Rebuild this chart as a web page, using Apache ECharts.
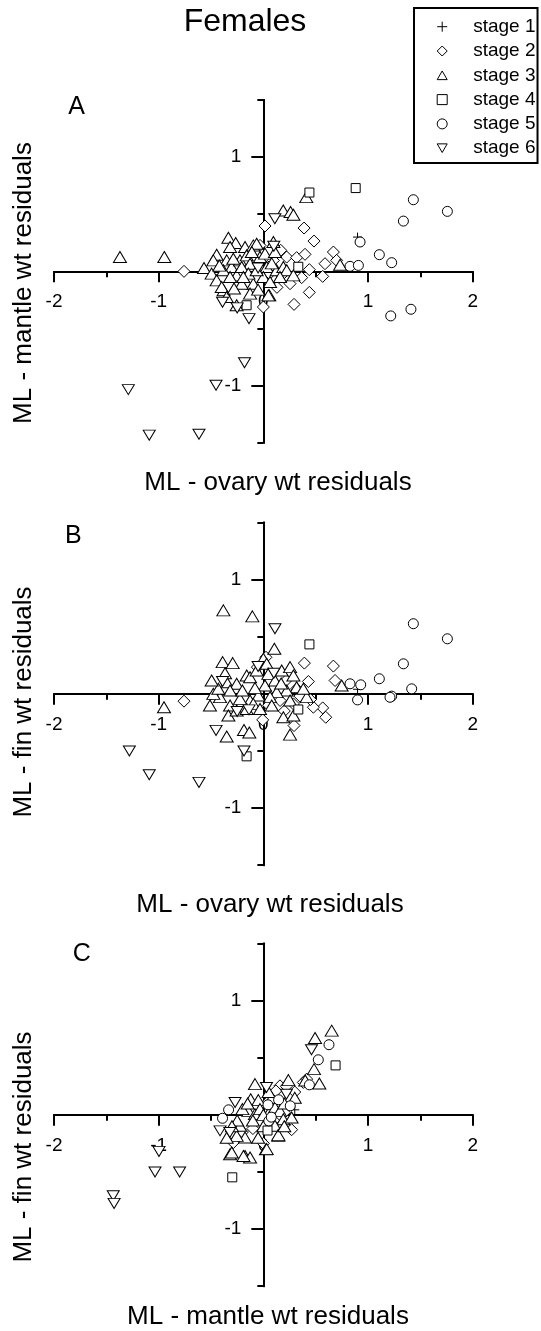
<!DOCTYPE html>
<html>
<head>
<meta charset="utf-8">
<script src="https://cdn.jsdelivr.net/npm/echarts@6/dist/echarts.min.js"></script>
<style>
html,body{margin:0;padding:0;background:#fff;}
#chart{width:541px;height:1331px;}
</style>
</head>
<body>
<div id="chart"></div>
<script>
// ---------- DATA ----------
const stageNames = ['stage 1', 'stage 2', 'stage 3', 'stage 4', 'stage 5', 'stage 6'];
const panelLetters = ['A', 'B', 'C'];
const xAxisNames = ['ML - ovary wt residuals', 'ML - ovary wt residuals', 'ML - mantle wt residuals'];
const yAxisNames = ['ML - mantle wt residuals', 'ML - fin wt residuals', 'ML - fin wt residuals'];
const xMajorTicks = [-2, -1, 0, 1, 2];
const xMinorTicks = [-1.5, -0.5, 0.5, 1.5];
const yMajorTicks = [-1, 0, 1];
const yLabelTicks = [-1, 1];
const yMinorTicks = [-1.5, -0.5, 0.5, 1.5];

// Panel A: ovary residual (x) vs mantle residual (y)
const A_stage1 = [[0.90, 0.30]];
const A_stage2 = [[-0.758, 0], [0.016, 0.397], [0.389, 0.379], [0.484, 0.265], [0.166, 0.184], [0.223, 0.125],
  [0.318, 0.12], [0.398, 0.149], [0.439, 0.015], [0.567, -0.044], [0.589, 0.067], [0.669, 0.169],
  [0.366, -0.055], [0.255, -0.108], [0.439, -0.184], [0.293, -0.289], [0, -0.312], [0.096, 0.096],
  [0.175, -0.035], [-0.032, 0.227], [0.70, 0.096], [0.13, -0.14], [0.06, -0.02]];
const A_stage3 = [[-1.37, 0.125], [-0.946, 0.125], [-0.567, 0.03], [0.41, 0.65], [0.19, 0.533], [0.26, 0.52],
  [0.287, 0.496], [0.733, 0.058], [-0.38, -0.166], [-0.255, -0.297], [0.057, -0.21],
  [-0.334, 0.294], [-0.264, 0.248], [-0.446, 0.146], [-0.35, 0.096], [-0.494, -0.02], [-0.446, -0.079],
  [-0.398, -0.137], [-0.303, 0.038], [-0.255, -0.035], [-0.223, 0.096], [-0.175, 0.213], [-0.159, 0.14],
  [-0.127, 0.067], [-0.318, 0.213], [-0.096, 0.227], [-0.064, 0.242], [-0.032, 0.125], [0.016, 0.155],
  [0.096, 0.257], [0.111, 0.169], [0.032, 0.038], [0, -0.05], [-0.096, -0.108], [-0.207, -0.108],
  [-0.127, -0.195], [0.048, -0.21], [0.127, 0.009], [0.191, 0.038], [0.223, 0.009], [0.287, -0.035],
  [-0.35, -0.224], [-0.478, 0.096], [-0.207, 0.038], [-0.382, 0.009], [-0.143, -0.02], [-0.064, 0.009],
  [-0.287, 0.111], [-0.191, -0.05], [0.064, -0.093], [-0.318, -0.05], [0.159, -0.05], [-0.42, 0.05],
  [-0.28, -0.15], [-0.05, -0.16], [0.08, 0.07], [-0.11, 0.17]];
const A_stage4 = [[0.44, 0.69], [0.882, 0.729], [0.334, 0.04], [-0.16, -0.297]];
const A_stage5 = [[1.433, 0.627], [1.758, 0.525], [1.338, 0.44], [0.924, 0.257], [1.108, 0.146], [1.226, 0.076],
  [0.828, 0.044], [0.908, 0.052], [1.217, -0.39], [1.41, -0.332]];
const A_stage6 = [[-1.29, -1.035], [-1.09, -1.434], [-0.615, -1.426], [-0.452, -0.997], [-0.18, -0.80],
  [-0.137, -0.414], [-0.39, -0.27], [0.11, 0.46], [-0.05, 0.03], [0.1, 0.22], [-0.25, -0.32]];

// Panel B: ovary residual (x) vs fin residual (y)
const B_stage1 = [[0.90, 0.04]];
const B_stage2 = [[-0.758, -0.064], [0.392, 0.269], [0.669, 0.243], [0.43, 0.108], [0.685, 0.117], [0.567, -0.123],
  [0.596, -0.205], [0.478, -0.117], [0.293, -0.278], [-0.006, -0.228], [-0.057, 0.234], [0.025, 0.32],
  [0.318, 0.044], [0.287, -0.088], [0.16, -0.058], [0.1, 0.05], [0.2, -0.15], [0.35, -0.02], [0.45, -0.05],
  [0.22, 0.12], [0.05, -0.1]];
const B_stage3 = [[-0.382, 0.731], [-0.105, 0.678], [0.105, 0.395], [-0.949, -0.117], [0.255, -0.357],
  [-0.35, -0.374], [-0.185, -0.316], [-0.134, -0.339], [0.748, 0.073], [-0.389, 0.278], [-0.293, 0.269],
  [-0.35, 0.102], [-0.255, 0.088], [-0.159, 0.161], [-0.127, 0.146], [-0.064, 0.205], [0, 0.307],
  [0.032, 0.263], [0.048, 0.175], [0.016, 0.073], [0.111, 0.117], [0.175, 0.205], [0.255, 0.234],
  [0.287, 0.161], [0.318, 0.058], [0.223, 0.029], [0.127, 0.015], [0.064, -0.029], [-0.048, -0.015],
  [-0.127, -0.058], [-0.223, -0.044], [-0.318, -0.102], [-0.414, -0.029], [-0.478, 0], [-0.334, -0.19],
  [-0.255, -0.146], [-0.159, -0.132], [-0.096, -0.088], [-0.032, -0.132], [0.08, -0.102], [0.191, -0.205],
  [0.287, -0.19], [0.414, -0.029], [0.382, 0.044], [0.255, -0.058], [-0.318, 0.029], [-0.51, -0.102],
  [-0.43, 0.044], [-0.366, 0.18], [-0.494, 0.117], [-0.2, 0.03], [-0.08, 0.05], [0.17, 0.09]];
const B_stage4 = [[0.44, 0.433], [0.334, -0.137], [-0.16, -0.547]];
const B_stage5 = [[1.433, 0.614], [1.758, 0.482], [1.338, 0.263], [1.108, 0.132], [0.828, 0.088], [0.93, 0.079],
  [0.90, -0.053], [1.226, -0.02], [1.21, -0.03], [1.417, 0.044]];
const B_stage6 = [[-1.28, -0.50], [-1.09, -0.708], [-0.615, -0.775], [-0.452, -0.32], [-0.185, -0.50],
  [0.111, 0.57], [-0.137, -0.14], [-0.39, 0.108], [-0.05, 0.24], [0.1, 0.18], [-0.25, -0.155]];

// Panel C: mantle residual (x) vs fin residual (y)
const C_stage1 = [[0.30, 0.044]];
const C_stage2 = [[0.382, 0.284], [0.414, 0.313], [0.159, 0.254], [0.27, -0.13], [-0.287, -0.243], [0.12, 0.21],
  [0.2, 0.02], [-0.1, -0.12], [0, -0.25], [0.3, 0.2], [-0.2, -0.15], [0.1, -0.05], [0.22, 0.25], [0.05, 0.12]];
const C_stage3 = [[0.653, 0.737], [0.494, 0.673], [0.484, 0.40], [0.535, 0.275], [0.239, 0.304], [-0.08, 0.269],
  [-0.121, 0.137], [-0.048, 0.129], [-0.143, 0.035], [-0.08, 0.006], [-0.032, 0.05], [0.064, 0.035],
  [0.111, 0.064], [0.159, 0.035], [0.191, -0.038], [0.27, -0.023], [-0.223, -0.096], [-0.175, -0.199],
  [-0.318, -0.345], [-0.175, -0.36], [-0.127, -0.374], [0.025, -0.301], [0.143, -0.184], [0.111, -0.096],
  [-0.255, -0.184], [-0.302, -0.33], [-0.19, -0.36], [0.032, -0.30], [0.143, -0.175], [-0.2, 0.05],
  [-0.1, -0.05], [0, -0.1], [0.08, 0.15], [0.2, 0.1], [-0.25, -0.05], [-0.05, -0.2], [0.05, 0.2],
  [0.3, 0.15], [0.4, 0.3], [-0.3, -0.1], [0, 0], [-0.15, 0.1], [0.2, -0.1], [-0.35, -0.2]];
const C_stage4 = [[0.69, 0.433], [0.04, -0.137], [-0.297, -0.547]];
const C_stage5 = [[0.627, 0.614], [0.525, 0.482], [0.44, 0.263], [0.146, 0.132], [0.044, 0.088], [0.257, 0.079],
  [0.052, -0.053], [0.076, -0.02], [-0.39, -0.03], [-0.332, 0.044]];
const C_stage6 = [[-1.035, -0.50], [-1.434, -0.708], [-1.426, -0.775], [-0.997, -0.32], [-0.80, -0.50],
  [-0.414, -0.14], [-0.27, 0.108], [0.46, 0.57], [0.03, 0.24], [0.22, 0.18], [-0.32, -0.155]];

const panelData = [
  [A_stage1, A_stage2, A_stage3, A_stage4, A_stage5, A_stage6],
  [B_stage1, B_stage2, B_stage3, B_stage4, B_stage5, B_stage6],
  [C_stage1, C_stage2, C_stage3, C_stage4, C_stage5, C_stage6]
];

// ---------- STYLE ----------
const FONT = '"Liberation Sans", Arial, Helvetica, sans-serif';
const stageSymbols = [
  'path://M5,0L5,10M0,5L10,5',
  'path://M5,0L10,5L5,10L0,5Z',
  'path://M5,0L10,8.66L0,8.66Z',
  'path://M0,0L10,0L10,10L0,10Z',
  'circle',
  'path://M0,0L10,0L5,8.66Z'
];
const stageSizes = [[9, 9], [12, 12], [13, 11], [9, 9], [10, 10], [12, 10]];

const gridTops = [100, 522.5, 943.5];
const gridLeft = 54, gridWidth = 418.7, gridHeight = 342.7;

const chart = echarts.init(document.getElementById('chart'), null, {renderer: 'canvas'});

const grids = [], xAxes = [], yAxes = [], series = [], graphics = [];
const lineStyle = {color: '#000', width: 2};
const xOff = -gridHeight / 2;   // moves bottom x axis up to y = 0
const yOff = -gridWidth / 2;    // moves left y axis right to x = 0

gridTops.forEach((top, p) => {
  grids.push({left: gridLeft, top: top, width: gridWidth, height: gridHeight, containLabel: false, outerBoundsMode: 'none'});
  // major x axis
  xAxes.push({
    type: 'value', gridIndex: p, min: -2, max: 2, interval: 1, position: 'bottom', offset: xOff,
    axisLine: {show: true, onZero: false, lineStyle: lineStyle},
    axisTick: {show: true, length: 11, lineStyle: {color: '#000', width: 2}, customValues: xMajorTicks},
    axisLabel: {show: true, margin: 21, fontSize: 19, color: '#000', fontFamily: FONT, customValues: xMajorTicks,
      formatter: v => String(v)},
    splitLine: {show: false}
  });
  // minor x axis
  xAxes.push({
    type: 'value', gridIndex: p, min: -2, max: 2, interval: 0.5, position: 'bottom', offset: xOff,
    axisLine: {show: true, onZero: false, lineStyle: lineStyle},
    axisTick: {show: true, length: 6, lineStyle: {color: '#000', width: 2}, customValues: xMinorTicks},
    axisLabel: {show: false},
    splitLine: {show: false}
  });
  // major y axis
  yAxes.push({
    type: 'value', gridIndex: p, min: -1.5, max: 1.5, interval: 0.5, position: 'left', offset: yOff,
    axisLine: {show: true, onZero: false, lineStyle: lineStyle},
    axisTick: {show: true, length: 12, lineStyle: {color: '#000', width: 2}, customValues: yMajorTicks},
    axisLabel: {show: true, margin: 22, fontSize: 19, color: '#000', fontFamily: FONT, customValues: yLabelTicks,
      formatter: v => (v === 1 || v === -1) ? String(v) : ''},
    splitLine: {show: false}
  });
  // minor y axis
  yAxes.push({
    type: 'value', gridIndex: p, min: -1.5, max: 1.5, interval: 0.5, position: 'left', offset: yOff,
    axisLine: {show: true, onZero: false, lineStyle: lineStyle},
    axisTick: {show: true, length: 6, lineStyle: {color: '#000', width: 2}, customValues: yMinorTicks},
    axisLabel: {show: false},
    splitLine: {show: false}
  });

  panelData[p].forEach((pts, s) => {
    series.push({
      type: 'scatter', name: stageNames[s], xAxisIndex: p * 2, yAxisIndex: p * 2,
      data: pts, symbol: stageSymbols[s], symbolSize: stageSizes[s],
      itemStyle: {color: '#fff', borderColor: '#000', borderWidth: 1, opacity: 1},
      emphasis: {disabled: true}, z: 3 + s
    });
  });

  graphics.push({
    type: 'text', x: [76.7, 73.3, 81.7][p], y: [107.5, 536.5, 954.5][p],
    style: {text: panelLetters[p], fill: '#000', font: '25px ' + FONT, textAlign: 'center', align: 'center',
      textVerticalAlign: 'middle', verticalAlign: 'middle'}
  });
  graphics.push({
    type: 'text', x: [278, 270, 268][p], y: [483, 905, 1317][p],
    style: {text: xAxisNames[p], fill: '#000', font: '26px ' + FONT, textAlign: 'center', align: 'center',
      textVerticalAlign: 'middle', verticalAlign: 'middle'}
  });
  graphics.push({
    type: 'text', x: 24, y: [283, 702, 1147][p], rotation: Math.PI / 2,
    style: {text: yAxisNames[p], fill: '#000', font: '26px ' + FONT, textAlign: 'center', align: 'center',
      textVerticalAlign: 'middle', verticalAlign: 'middle'}
  });
});

graphics.push({
  type: 'text', x: 245, y: 22,
  style: {text: 'Females', fill: '#000', font: '32px ' + FONT, textAlign: 'center', align: 'center',
    textVerticalAlign: 'middle', verticalAlign: 'middle'}
});

chart.setOption({
  animation: false,
  backgroundColor: '#fff',
  grid: grids,
  xAxis: xAxes,
  yAxis: yAxes,
  series: series,
  legend: {
    data: stageNames,
    orient: 'vertical', left: 414, top: 8,
    padding: [9.2, 2, 5.2, 22.7],
    itemWidth: 10, itemHeight: 10, itemGap: 5.3,
    borderColor: '#000', borderWidth: 2,
    itemStyle: {color: '#fff', borderColor: '#000', borderWidth: 1},
    textStyle: {fontSize: 19, lineHeight: 19, color: '#000', fontFamily: FONT, padding: [0, 0, 0, 21]},
    selectedMode: false
  },
  graphic: graphics
});
</script>
</body>
</html>
